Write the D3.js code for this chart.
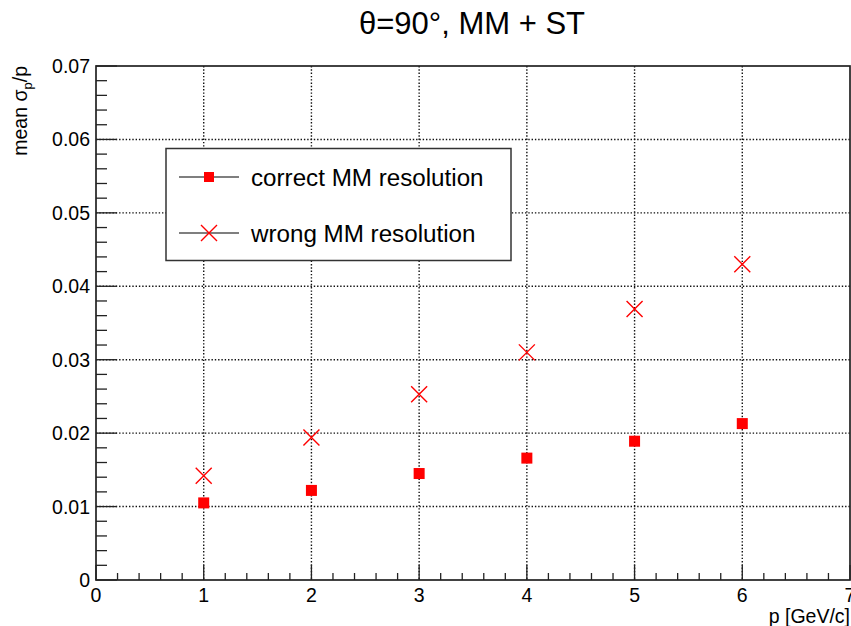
<!DOCTYPE html>
<meta charset="utf-8">
<style>
  body { margin: 0; background: #fff; }
  text { font-family: "Liberation Sans", Arial, Helvetica, sans-serif; fill: #000; }
</style>

<!-- Load d3.js -->
<script src="https://d3js.org/d3.v7.min.js"></script>

<div id="my_dataviz"></div>

<script>

// data
var momenta = [1, 2, 3, 4, 5, 6];
var correctRes = [0.0105, 0.0122, 0.0145, 0.0166, 0.0189, 0.0213];
var wrongRes = [0.0142, 0.0194, 0.0253, 0.0310, 0.0369, 0.0430];
var xTicks = [0, 1, 2, 3, 4, 5, 6, 7];
var yTicks = [0, 0.01, 0.02, 0.03, 0.04, 0.05, 0.06, 0.07];
var seriesNames = ["correct MM resolution", "wrong MM resolution"];

// dimensions and margins of the graph
var margin = {top: 66, right: 1, bottom: 46, left: 96},
    width = 851 - margin.left - margin.right,
    height = 626 - margin.top - margin.bottom;

var svg = d3.select("#my_dataviz")
  .append("svg")
    .attr("width", 851)
    .attr("height", 626);

var g = svg.append("g")
    .attr("transform", "translate(" + margin.left + "," + margin.top + ")");

var x = d3.scaleLinear().domain([0, 7]).range([0, width]);
var y = d3.scaleLinear().domain([0, 0.07]).range([height, 0]);

// dotted grid
g.append("g").selectAll("line")
  .data(xTicks.filter(function(d){ return d > 0 && d < 7; }))
  .enter().append("line")
    .attr("x1", function(d){ return x(d); })
    .attr("x2", function(d){ return x(d); })
    .attr("y1", 0).attr("y2", height)
    .attr("stroke", "#111").attr("stroke-width", 1.4)
    .attr("stroke-dasharray", "1.4,1.9");
g.append("g").selectAll("line")
  .data(yTicks.filter(function(d){ return d > 0 && d < 0.07; }))
  .enter().append("line")
    .attr("y1", function(d){ return y(d); })
    .attr("y2", function(d){ return y(d); })
    .attr("x1", 0).attr("x2", width)
    .attr("stroke", "#111").attr("stroke-width", 1.4)
    .attr("stroke-dasharray", "1.4,1.9");

// frame
g.append("rect")
  .attr("x", 0).attr("y", 0)
  .attr("width", width).attr("height", height)
  .attr("fill", "none").attr("stroke", "#222").attr("stroke-width", 1.7);

// X axis: ticks pointing up into the frame
var xMinor = d3.range(0, 35).map(function(i){ return i * 0.2; }).filter(function(d){ return Math.abs(d - Math.round(d)) > 1e-6; });
var xAxis = g.append("g").attr("transform", "translate(0," + height + ")");
xAxis.selectAll(".minor").data(xMinor).enter().append("line")
  .attr("x1", function(d){ return x(d); }).attr("x2", function(d){ return x(d); })
  .attr("y1", 0).attr("y2", -7)
  .attr("stroke", "#222").attr("stroke-width", 1.3);
xAxis.selectAll(".major").data(xTicks).enter().append("line")
  .attr("x1", function(d){ return x(d); }).attr("x2", function(d){ return x(d); })
  .attr("y1", 0).attr("y2", -15)
  .attr("stroke", "#222").attr("stroke-width", 1.3);
xAxis.selectAll("text").data(xTicks).enter().append("text")
  .attr("x", function(d){ return x(d); })
  .attr("y", 22)
  .attr("text-anchor", "middle")
  .style("font-size", "19.5px")
  .text(function(d){ return d; });

// Y axis: ticks pointing right into the frame
var yMinor = d3.range(0, 36).map(function(i){ return i * 0.002; }).filter(function(d, i){ return i % 5 != 0; });
var yAxis = g.append("g");
yAxis.selectAll(".minor").data(yMinor).enter().append("line")
  .attr("y1", function(d){ return y(d); }).attr("y2", function(d){ return y(d); })
  .attr("x1", 0).attr("x2", 11)
  .attr("stroke", "#222").attr("stroke-width", 1.3);
yAxis.selectAll(".major").data(yTicks).enter().append("line")
  .attr("y1", function(d){ return y(d); }).attr("y2", function(d){ return y(d); })
  .attr("x1", 0).attr("x2", 21)
  .attr("stroke", "#222").attr("stroke-width", 1.3);
yAxis.selectAll("text").data(yTicks).enter().append("text")
  .attr("x", -6)
  .attr("y", function(d){ return y(d) + 7; })
  .attr("text-anchor", "end")
  .style("font-size", "19.5px")
  .text(function(d){ return d === 0 ? "0" : d3.format(".2f")(d); });

// axis titles
svg.append("text")
  .attr("x", 850).attr("y", 623)
  .attr("text-anchor", "end")
  .style("font-size", "19.5px")
  .text("p [GeV/c]");

var yTitle = svg.append("text")
  .attr("transform", "translate(27,66) rotate(-90)")
  .attr("text-anchor", "end")
  .style("font-size", "19.5px");
yTitle.append("tspan").text("mean \u03c3");
yTitle.append("tspan").attr("dy", 5).style("font-size", "13px").text("p");
yTitle.append("tspan").attr("dy", -5).text("/p");

// title
svg.append("text")
  .attr("x", 472).attr("y", 34)
  .attr("text-anchor", "middle")
  .style("font-size", "31px")
  .text("\u03b8=90\u00b0, MM + ST");

// markers
var red = "#ff0000";
var sq = 11, cr = 8;

function drawSquare(sel, cx, cy, s) {
  sel.append("rect")
    .attr("x", cx - s / 2).attr("y", cy - s / 2)
    .attr("width", s).attr("height", s)
    .attr("fill", red);
}
function drawCross(sel, cx, cy, h) {
  sel.append("path")
    .attr("d", "M" + (cx - h) + "," + (cy - h) + "L" + (cx + h) + "," + (cy + h) +
               "M" + (cx - h) + "," + (cy + h) + "L" + (cx + h) + "," + (cy - h))
    .attr("stroke", red).attr("stroke-width", 1.4).attr("fill", "none");
}

var dots = g.append("g");
momenta.forEach(function(p, i) {
  drawSquare(dots, x(p), y(correctRes[i]), sq);
  drawCross(dots, x(p), y(wrongRes[i]), cr);
});

// legend
var legend = svg.append("g");
legend.append("rect")
  .attr("x", 166).attr("y", 148.5)
  .attr("width", 345).attr("height", 112)
  .attr("fill", "#fff").attr("stroke", "#333").attr("stroke-width", 1.5);

var rowsY = [177, 233];
seriesNames.forEach(function(name, i) {
  legend.append("line")
    .attr("x1", 179).attr("x2", 239)
    .attr("y1", rowsY[i]).attr("y2", rowsY[i])
    .attr("stroke", "#000").attr("stroke-width", 1.2);
  if (i == 0) drawSquare(legend, 209, rowsY[i], 10);
  else drawCross(legend, 209, rowsY[i], 8);
  legend.append("text")
    .attr("x", 251).attr("y", rowsY[i] + 8.5)
    .style("font-size", "24.2px")
    .text(name);
});

</script>
